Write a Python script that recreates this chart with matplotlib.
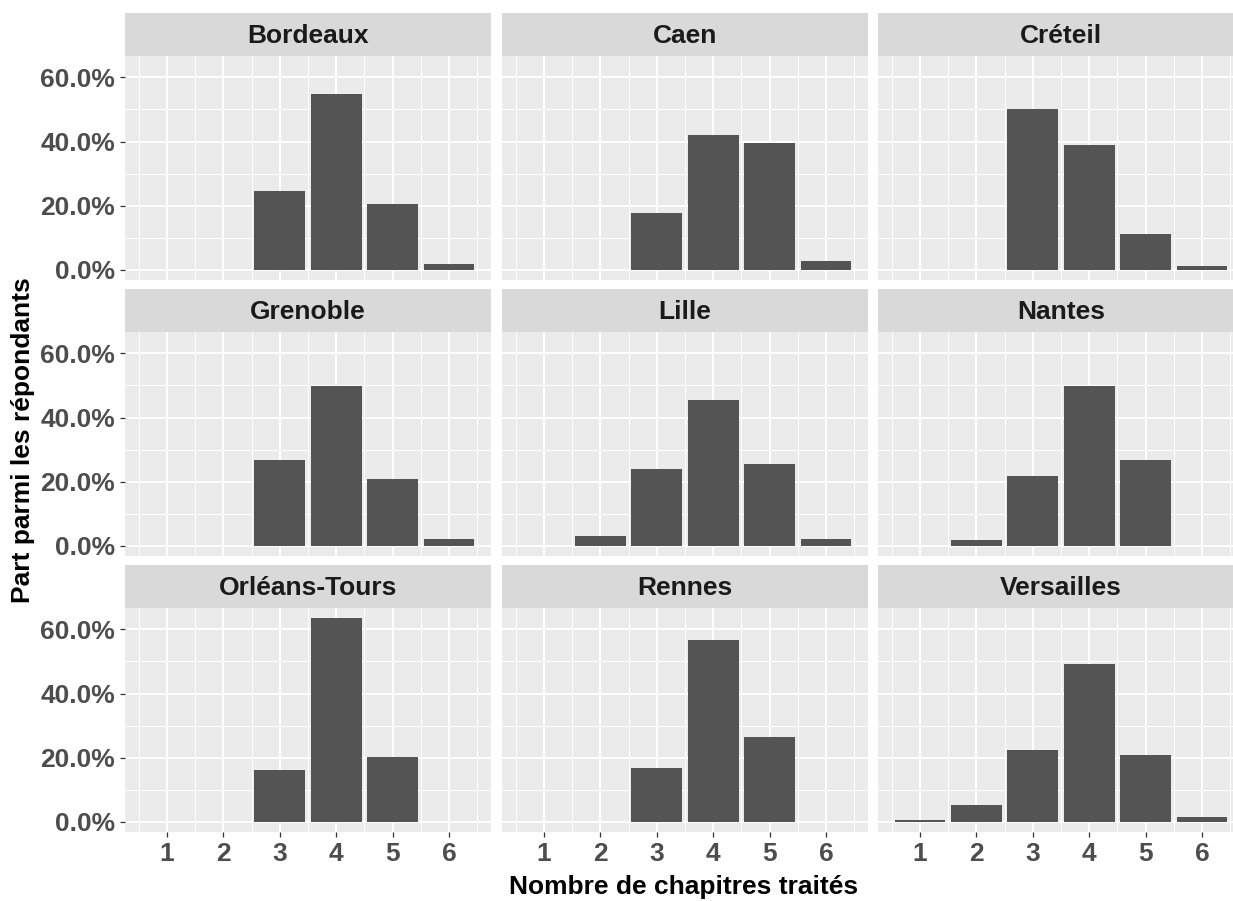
import numpy as np
import matplotlib
matplotlib.use('Agg')
import matplotlib.pyplot as plt
from matplotlib.ticker import FixedLocator, FuncFormatter

plt.rcParams['font.family'] = ['Liberation Sans', 'DejaVu Sans']

# Data: share of respondents (%) per number of chapters, per academy
chapters = [1, 2, 3, 4, 5, 6]
academies = ['Bordeaux', 'Caen', 'Créteil',
             'Grenoble', 'Lille', 'Nantes',
             'Orléans-Tours', 'Rennes', 'Versailles']
bordeaux = [0, 0, 24.7, 54.8, 20.5, 1.8]
caen = [0, 0, 17.6, 42.0, 39.4, 2.7]
creteil = [0, 0, 50.1, 39.0, 11.2, 1.3]
grenoble = [0, 0, 26.8, 49.8, 20.8, 2.2]
lille = [0, 3.0, 24.0, 45.6, 25.6, 2.2]
nantes = [0, 1.8, 21.8, 49.9, 26.8, 0]
orleans_tours = [0, 0, 16.2, 63.5, 20.2, 0]
rennes = [0, 0, 16.7, 56.8, 26.6, 0]
versailles = [0.6, 5.2, 22.3, 49.1, 20.7, 1.5]
shares = [bordeaux, caen, creteil, grenoble, lille, nantes,
          orleans_tours, rennes, versailles]

W, H = 1233, 901
fig = plt.figure(figsize=(W / 100, H / 100), dpi=100)

col_left = [125, 502, 878]
col_width = 366
row_strip_top = [13, 289, 565]
strip_h = 43
panel_h = 224

BAR = '#545454'
PANEL_BG = '#EBEBEB'
STRIP_BG = '#D9D9D9'
TICK_TXT = '#4D4D4D'

ymax = max(max(s) for s in shares)
ylim = (-0.05 * ymax, ymax * 1.05)
xlim = (0.55 - 0.05 * 5.9, 6.45 + 0.05 * 5.9)


def frac(x, y, w, h):
    return [x / W, 1 - (y + h) / H, w / W, h / H]


for i, (name, vals) in enumerate(zip(academies, shares)):
    r, c = divmod(i, 3)
    x0 = col_left[c]
    ys = row_strip_top[r]

    # strip
    sax = fig.add_axes(frac(x0, ys, col_width, strip_h))
    sax.set_facecolor(STRIP_BG)
    sax.set_xticks([])
    sax.set_yticks([])
    for sp in sax.spines.values():
        sp.set_visible(False)
    sax.text(0.5, 0.47, name, ha='center', va='center', fontsize=19,
             fontweight='bold', color='#1A1A1A', transform=sax.transAxes)

    # panel
    ax = fig.add_axes(frac(x0, ys + strip_h, col_width, panel_h))
    ax.set_facecolor(PANEL_BG)
    for sp in ax.spines.values():
        sp.set_visible(False)
    ax.set_xlim(*xlim)
    ax.set_ylim(*ylim)

    xs = [x for x, v in zip(chapters, vals) if v > 0]
    vs = [v for v in vals if v > 0]
    ax.bar(xs, vs, width=0.9, color=BAR, zorder=3)

    ax.xaxis.set_major_locator(FixedLocator(chapters))
    ax.xaxis.set_minor_locator(FixedLocator(np.arange(0.5, 7, 1.0)))
    ax.yaxis.set_major_locator(FixedLocator([0, 20, 40, 60]))
    ax.yaxis.set_minor_locator(FixedLocator([10, 30, 50]))
    ax.grid(which='major', color='white', linewidth=1.4, zorder=0)
    ax.grid(which='minor', color='white', linewidth=0.7, zorder=0)
    ax.set_axisbelow(True)

    ax.tick_params(which='minor', length=0)
    ax.tick_params(which='major', length=3.5, width=0.9, color='#333333',
                   labelcolor=TICK_TXT, labelsize=19, pad=3.5)
    ax.yaxis.set_major_formatter(FuncFormatter(lambda v, p: f'{v:.1f}%'))
    for lab in ax.get_xticklabels() + ax.get_yticklabels():
        lab.set_fontweight('bold')

    if c != 0:
        ax.tick_params(axis='y', which='major', length=0, labelleft=False)
    if r != 2:
        ax.tick_params(axis='x', which='major', length=0, labelbottom=False)

fig.text(684 / W, 1 - 887 / H, 'Nombre de chapitres traités', ha='center',
         va='center', fontsize=19, fontweight='bold', color='black')
fig.text(23 / W, 1 - 440 / H, 'Part parmi les répondants', ha='center',
         va='center', rotation=90, fontsize=19, fontweight='bold',
         color='black')

fig.savefig('out.png', dpi=100, facecolor='white')
